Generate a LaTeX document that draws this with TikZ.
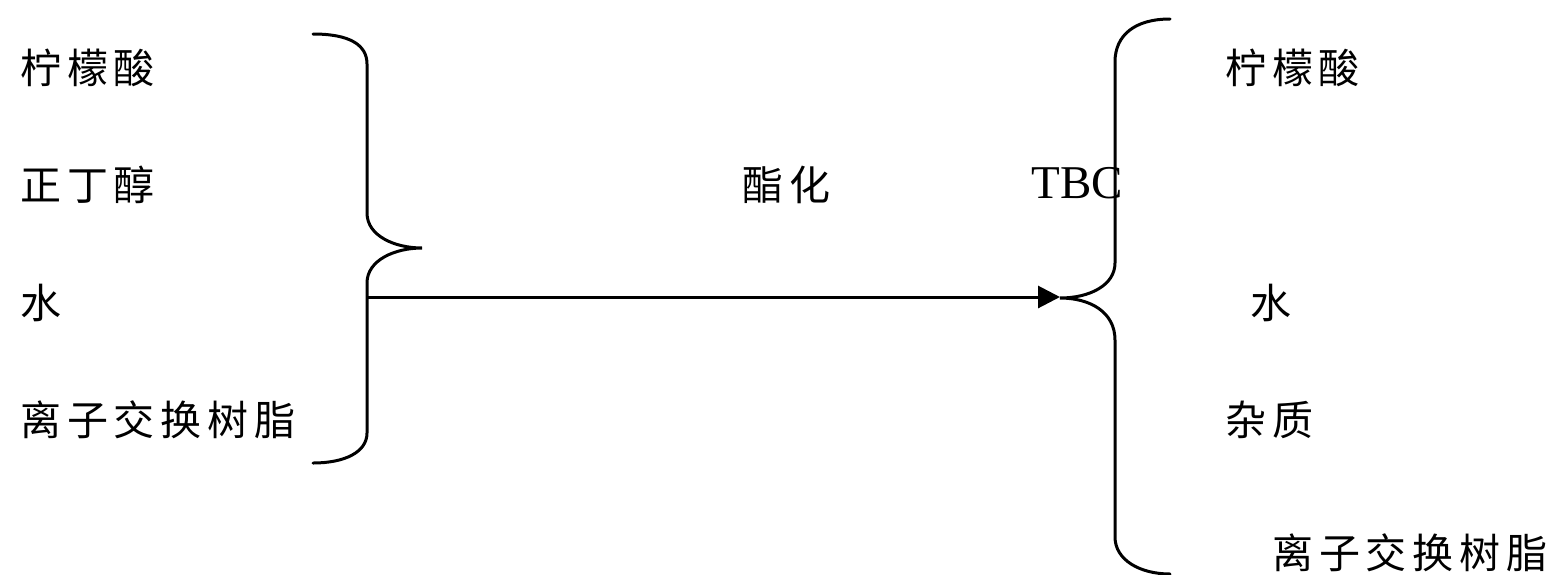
\documentclass[tikz,border=0pt]{standalone}
\usepackage{fontspec}
\setmainfont{Liberation Serif}
\newfontfamily\cjk[LetterSpace=14]{Noto Sans CJK SC}
\usetikzlibrary{arrows.meta}
\tikzset{
  lbl/.style={anchor=west, inner sep=0pt, font=\cjk\fontsize{20.5pt}{20.5pt}\selectfont},
  latin/.style={anchor=west, inner sep=0pt, font=\fontsize{23.5pt}{23.5pt}\selectfont},
  brace/.style={line width=1.5pt, line cap=round},
  flow/.style={line width=1.5pt, -{Triangle[length=11pt,width=11pt]}}
}
\begin{document}
\begin{tikzpicture}[x=0.5pt,y=-0.5pt]
\useasboundingbox (0,0) rectangle (1559,574);
% left column
\node[lbl] (l1) at (20,68) {柠檬酸};
\node[lbl] (l2) at (20,185) {正丁醇};
\node[lbl] (l3) at (20,303) {水};
\node[lbl] (l4) at (20,420) {离子交换树脂};
% middle labels
\node[lbl] (m1) at (742,185) {酯化};
\node[latin] (m2) at (1031,183) {TBC};
% right column
\node[lbl] (r1) at (1225,68) {柠檬酸};
\node[lbl] (r2) at (1250,303) {水};
\node[lbl] (r3) at (1225,420) {杂质};
\node[lbl] (r4) at (1272,553) {离子交换树脂};
% left brace
\draw[brace] (313,34) .. controls (350,34) and (367,45) .. (367,64) -- (367,213)
  .. controls (367,236) and (395,248) .. (422,248)
  .. controls (395,248) and (367,260) .. (367,283) -- (367,433)
  .. controls (367,452) and (345,463) .. (313,463);
% right brace
\draw[brace] (1170,19) .. controls (1135,19) and (1115,35) .. (1115,62) -- (1115,263)
  .. controls (1115,285) and (1090,298) .. (1060,298)
  .. controls (1090,298) and (1115,312) .. (1115,340) -- (1115,537)
  .. controls (1115,560) and (1140,574) .. (1170,574);
\coordinate (lb) at (367,297);
\coordinate (rb) at (1060,297);
\draw[flow] (lb) -- (rb);
\end{tikzpicture}
\end{document}
